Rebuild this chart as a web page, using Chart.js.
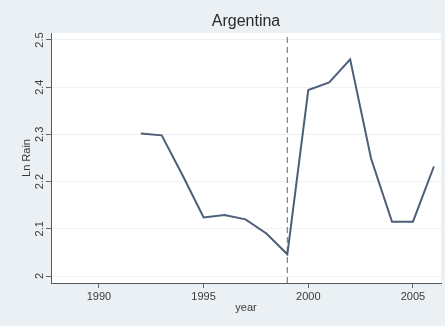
<!DOCTYPE html>
<html>
<head>
<meta charset="utf-8">
<script src="https://cdn.jsdelivr.net/npm/chart.js@4/dist/chart.umd.min.js"></script>
<style>
  html, body { margin: 0; padding: 0; background: #eaf0f3; }
  #wrap { width: 445px; height: 326px; }
</style>
</head>
<body>
<div id="wrap"><canvas id="c" width="445" height="326"></canvas></div>
<script>
// Annual log rainfall, Argentina
const years = [1992, 1993, 1994, 1995, 1996, 1997, 1998, 1999, 2000, 2001, 2002, 2003, 2004, 2005, 2006];
const lnRain = [2.302, 2.298, 2.213, 2.124, 2.129, 2.120, 2.090, 2.046, 2.394, 2.410, 2.459, 2.249, 2.115, 2.115, 2.232];

// Axis ticks and ranges
const xTickValues = [1990, 1995, 2000, 2005];
const yTickValues = [2, 2.1, 2.2, 2.3, 2.4, 2.5];
const xRange = [1987.71, 2006.34];
const yRange = [1.9852, 2.5148];

// Reference year marked with a dashed vertical line
const markerYear = 1999;
const chartTitle = 'Argentina';

const FONT = 'Liberation Sans, Arial, sans-serif';

// Light canvas background, white plot region, title centred over the plot region
const framePlugin = {
  id: 'frame',
  beforeDraw(chart) {
    const { ctx, chartArea: a } = chart;
    ctx.save();
    ctx.fillStyle = '#eaf0f3';
    ctx.fillRect(0, 0, chart.width, chart.height);
    ctx.fillStyle = '#ffffff';
    ctx.fillRect(a.left, a.top, a.right - a.left, a.bottom - a.top);
    ctx.restore();
  },
  afterDraw(chart) {
    const { ctx, chartArea: a } = chart;
    ctx.save();
    ctx.fillStyle = '#2a2a2a';
    ctx.font = '16px ' + FONT;
    ctx.textAlign = 'center';
    ctx.textBaseline = 'middle';
    ctx.fillText(chartTitle, (a.left + a.right) / 2, 22);
    ctx.restore();
  }
};

new Chart(document.getElementById('c'), {
  type: 'line',
  data: {
    datasets: [
      {
        label: 'Ln Rain',
        data: years.map((y, i) => ({ x: y, y: lnRain[i] })),
        borderColor: '#4d5f78',
        borderWidth: 2,
        pointRadius: 0,
        tension: 0,
        fill: false
      },
      {
        label: 'marker',
        data: [{ x: markerYear, y: yRange[0] }, { x: markerYear, y: yRange[1] }],
        borderColor: '#8a8a8a',
        borderWidth: 1.3,
        borderDash: [6, 4],
        pointRadius: 0,
        fill: false
      }
    ]
  },
  options: {
    responsive: false,
    animation: false,
    layout: { padding: { left: 0, right: 4, top: 33, bottom: 0 } },
    plugins: {
      legend: { display: false },
      tooltip: { enabled: false },
      title: { display: false }
    },
    scales: {
      x: {
        type: 'linear',
        min: xRange[0],
        max: xRange[1],
        afterBuildTicks(s) { s.ticks = xTickValues.map(v => ({ value: v })); },
        afterFit(s) { s.height = 43; },
        ticks: {
          color: '#3a3a3a',
          font: { family: FONT, size: 11 },
          padding: 2,
          maxRotation: 0,
          callback: v => String(v)
        },
        grid: { drawOnChartArea: false, tickColor: '#666', tickLength: 5, color: '#666' },
        border: { color: '#5a5a5a', width: 1 },
        title: {
          display: true,
          text: 'year',
          color: '#3a3a3a',
          font: { family: FONT, size: 11 },
          padding: { top: 0, bottom: 11 }
        }
      },
      y: {
        type: 'linear',
        min: yRange[0],
        max: yRange[1],
        afterBuildTicks(s) { s.ticks = yTickValues.map(v => ({ value: v })); },
        afterFit(s) { s.width = 51; },
        ticks: {
          color: '#3a3a3a',
          font: { family: FONT, size: 11 },
          padding: -2,
          minRotation: 90,
          maxRotation: 90,
          crossAlign: 'center',
          callback: v => String(Math.round(v * 10) / 10)
        },
        grid: { color: '#eef2f4', lineWidth: 1, tickColor: '#666', tickLength: 5 },
        border: { color: '#5a5a5a', width: 1 },
        title: {
          display: true,
          text: 'Ln Rain',
          color: '#3a3a3a',
          font: { family: FONT, size: 11 },
          padding: { top: 20, bottom: 0 }
        }
      }
    }
  },
  plugins: [framePlugin]
});
</script>
</body>
</html>
